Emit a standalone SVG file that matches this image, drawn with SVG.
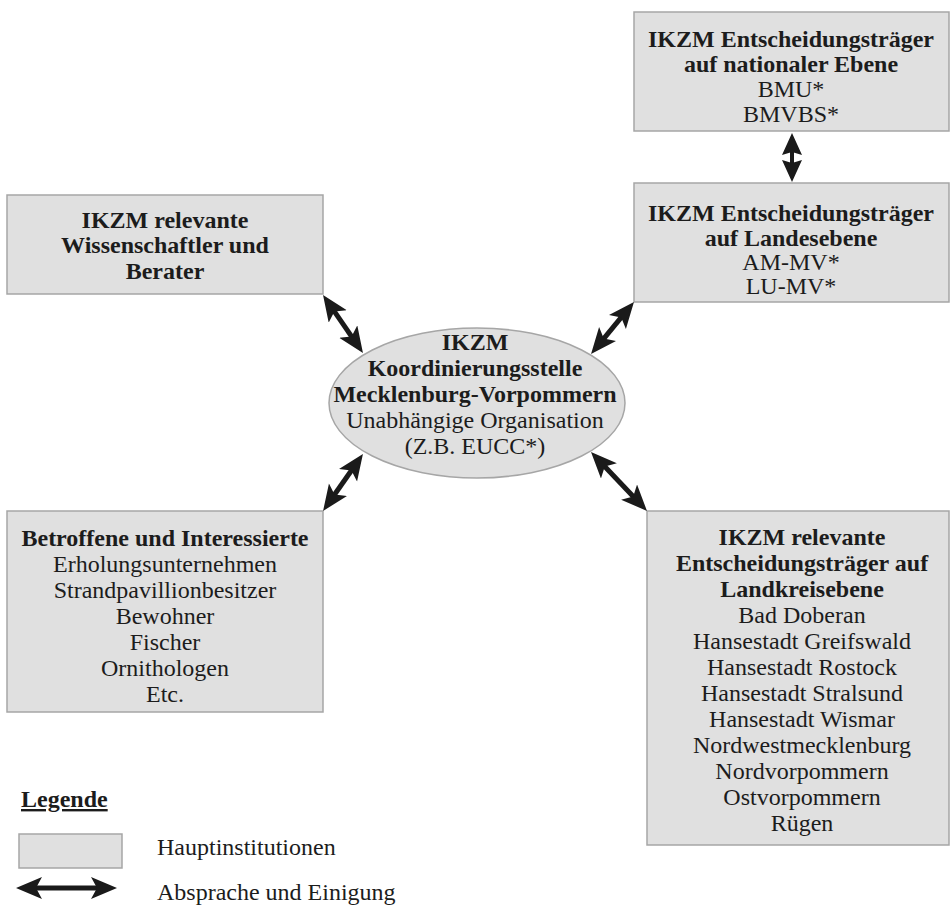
<svg xmlns="http://www.w3.org/2000/svg" width="951" height="908" viewBox="0 0 951 908">
<style>
.box{fill:#e0e0e0;stroke:#a6a6a6;stroke-width:1.5}
text{font-family:"Liberation Serif","Times New Roman",serif;font-size:24px;fill:#1c1c1c;text-anchor:middle}
.b{font-weight:bold}
.l{text-anchor:start}
.arr{stroke:#1a1a1a;stroke-width:5;fill:none;marker-start:url(#ah);marker-end:url(#ah)}
.arrs{stroke:#1a1a1a;stroke-width:4;fill:none;marker-start:url(#ahs);marker-end:url(#ahs)}
</style>
<defs>
<marker id="ah" markerUnits="userSpaceOnUse" markerWidth="28" markerHeight="24" viewBox="0 0 28 24" refX="16" refY="11" orient="auto-start-reverse">
<path d="M0,0 L26,11 L0,22 L6,11 z" fill="#1a1a1a"/>
</marker>
<marker id="ahs" markerUnits="userSpaceOnUse" markerWidth="24" markerHeight="22" viewBox="0 0 24 22" refX="12" refY="10" orient="auto-start-reverse">
<path d="M0,0 L22,10 L0,20 L3,10 z" fill="#1a1a1a"/>
</marker>
</defs>
<rect width="951" height="908" fill="#ffffff"/>

<g id="national">
<rect class="box" x="634" y="12" width="315" height="119"/>
<text class="b" x="791" y="47">IKZM Entscheidungsträger</text>
<text class="b" x="791" y="72">auf nationaler Ebene</text>
<text x="791" y="97">BMU*</text>
<text x="791" y="122">BMVBS*</text>
</g>

<g id="land">
<rect class="box" x="634" y="183" width="315" height="119"/>
<text class="b" x="791" y="221">IKZM Entscheidungsträger</text>
<text class="b" x="791" y="246">auf Landesebene</text>
<text x="791" y="270">AM-MV*</text>
<text x="791" y="294">LU-MV*</text>
</g>

<g id="wissenschaft">
<rect class="box" x="7" y="195" width="316" height="99"/>
<text class="b" x="165" y="228">IKZM relevante</text>
<text class="b" x="165" y="253">Wissenschaftler und</text>
<text class="b" x="165" y="279">Berater</text>
</g>

<g id="koordinierung">
<ellipse cx="477" cy="403" rx="148" ry="75" fill="#e0e0e0" stroke="#a6a6a6" stroke-width="1.5"/>
<text class="b" x="475" y="350">IKZM</text>
<text class="b" x="475" y="376">Koordinierungsstelle</text>
<text class="b" x="475" y="402">Mecklenburg-Vorpommern</text>
<text x="475" y="428">Unabhängige Organisation</text>
<text x="475" y="454">(Z.B. EUCC*)</text>
</g>

<g id="betroffene">
<rect class="box" x="7" y="511" width="316" height="201"/>
<text class="b" x="165" y="546">Betroffene und Interessierte</text>
<text x="165" y="572">Erholungsunternehmen</text>
<text x="165" y="598">Strandpavillionbesitzer</text>
<text x="165" y="624">Bewohner</text>
<text x="165" y="650">Fischer</text>
<text x="165" y="676">Ornithologen</text>
<text x="165" y="702">Etc.</text>
</g>

<g id="landkreis">
<rect class="box" x="647" y="511" width="302" height="334"/>
<text class="b" x="802" y="545">IKZM relevante</text>
<text class="b" x="802" y="571">Entscheidungsträger auf</text>
<text class="b" x="802" y="597">Landkreisebene</text>
<text x="802" y="623">Bad Doberan</text>
<text x="802" y="649">Hansestadt Greifswald</text>
<text x="802" y="675">Hansestadt Rostock</text>
<text x="802" y="701">Hansestadt Stralsund</text>
<text x="802" y="727">Hansestadt Wismar</text>
<text x="802" y="753">Nordwestmecklenburg</text>
<text x="802" y="779">Nordvorpommern</text>
<text x="802" y="805">Ostvorpommern</text>
<text x="802" y="831">Rügen</text>
</g>

<g id="connectors">
<path class="arrs" d="M792,143 L792,172"/>
<path class="arr" d="M328.7,303.2 L357.3,344.8"/>
<path class="arr" d="M627.6,309.7 L597.4,346.3"/>
<path class="arr" d="M357.2,462.2 L328.8,502.8"/>
<path class="arr" d="M597.9,459.3 L640.1,503.7"/>
</g>

<g id="legende">
<text class="b l" x="21" y="807" text-decoration="underline">Legende</text>
<rect class="box" x="19" y="834" width="103" height="34"/>
<text class="l" x="157" y="855">Hauptinstitutionen</text>
<path class="arr" d="M26,888 L107,888"/>
<text class="l" x="157" y="900">Absprache und Einigung</text>
</g>
</svg>
